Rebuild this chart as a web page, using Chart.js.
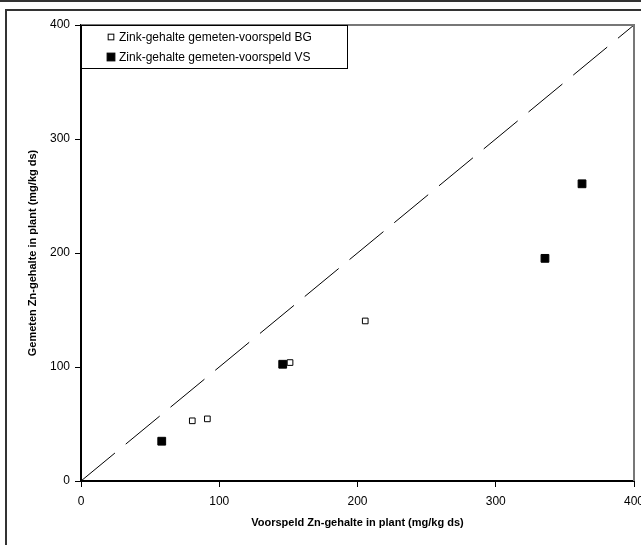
<!DOCTYPE html>
<html>
<head>
<meta charset="utf-8">
<script src="https://cdn.jsdelivr.net/npm/chart.js@4/dist/chart.umd.min.js"></script>
<style>
  html, body { margin: 0; padding: 0; background: #fff; }
  #wrap { position: relative; width: 641px; height: 545px; }
</style>
</head>
<body>
<div id="wrap"><canvas id="chart" width="641" height="545"></canvas></div>
<script>
// values
const bgLabel = 'Zink-gehalte gemeten-voorspeld BG';
const bgPredicted = [80.5, 91.4, 151.2, 205.6];
const bgMeasured = [52.8, 54.5, 103.9, 140.4];

const vsLabel = 'Zink-gehalte gemeten-voorspeld VS';
const vsPredicted = [58.4, 145.9, 335.6, 362.4];
const vsMeasured = [34.9, 102.4, 195.3, 260.7];

const lineX = [0, 400];
const lineY = [0, 400];

const axisMin = 0;
const axisMax = 400;
const axisStep = 100;

const xTitle = 'Voorspeld Zn-gehalte in plant (mg/kg ds)';
const yTitle = 'Gemeten Zn-gehalte in plant (mg/kg ds)';

function toPoints(xs, ys) {
  return xs.map((x, i) => ({ x: x, y: ys[i] }));
}

const fontFamily = '"Liberation Sans", Arial, sans-serif';

// frame around the whole picture and the plot box
const framePlugin = {
  id: 'frame',
  beforeDraw(chart) {
    const ctx = chart.ctx;
    ctx.save();
    ctx.fillStyle = '#fff';
    ctx.fillRect(0, 0, chart.width, chart.height);
    ctx.strokeStyle = '#333';
    ctx.lineWidth = 2;
    ctx.beginPath();
    ctx.moveTo(0, 1);
    ctx.lineTo(chart.width, 1);
    ctx.moveTo(6, chart.height + 5);
    ctx.lineTo(6, 10);
    ctx.lineTo(chart.width + 5, 10);
    ctx.stroke();
    ctx.restore();
  },
  afterDraw(chart) {
    const a = chart.chartArea;
    const ctx = chart.ctx;
    ctx.save();
    ctx.strokeStyle = '#777';
    ctx.lineWidth = 2;
    ctx.beginPath();
    ctx.moveTo(a.left, a.top);
    ctx.lineTo(a.right, a.top);
    ctx.lineTo(a.right, a.bottom);
    ctx.stroke();
    ctx.restore();
  }
};

// boxed legend in the top left corner of the plot
const boxLegendPlugin = {
  id: 'boxLegend',
  afterDraw(chart) {
    const a = chart.chartArea;
    const ctx = chart.ctx;
    const items = chart.data.datasets.filter(d => d.label);
    const boxW = 266, rowH = 20;
    ctx.save();
    ctx.fillStyle = '#fff';
    ctx.fillRect(a.left, a.top, boxW, items.length * rowH + 3);
    ctx.strokeStyle = '#000';
    ctx.lineWidth = 1;
    ctx.strokeRect(a.left + 0.5, a.top + 0.5, boxW, items.length * rowH + 3);
    ctx.font = '12px ' + fontFamily;
    ctx.textBaseline = 'middle';
    items.forEach((d, i) => {
      const cy = a.top + 12 + i * rowH;
      const cx = a.left + 30;
      const s = d.pointRadius * Math.SQRT1_2;
      ctx.fillStyle = d.pointBackgroundColor;
      ctx.fillRect(cx - s, cy - s, 2 * s, 2 * s);
      ctx.strokeStyle = d.pointBorderColor;
      ctx.lineWidth = d.pointBorderWidth;
      ctx.strokeRect(cx - s, cy - s, 2 * s, 2 * s);
      ctx.fillStyle = '#000';
      ctx.fillText(d.label, a.left + 38, cy + 1);
    });
    ctx.restore();
  }
};

const ctx = document.getElementById('chart').getContext('2d');
new Chart(ctx, {
  data: {
    datasets: [
      {
        type: 'line',
        data: toPoints(lineX, lineY),
        borderColor: '#000',
        borderWidth: 1,
        borderDash: [44, 14],
        pointRadius: 0,
        fill: false
      },
      {
        type: 'scatter',
        label: bgLabel,
        data: toPoints(bgPredicted, bgMeasured),
        pointStyle: 'rect',
        pointRadius: 4,
        pointBackgroundColor: '#fff',
        pointBorderColor: '#000',
        pointBorderWidth: 1
      },
      {
        type: 'scatter',
        label: vsLabel,
        data: toPoints(vsPredicted, vsMeasured),
        pointStyle: 'rect',
        pointRadius: 5.5,
        pointBackgroundColor: '#000',
        pointBorderColor: '#000',
        pointBorderWidth: 1
      }
    ]
  },
  options: {
    responsive: false,
    animation: false,
    layout: { padding: { top: 25, right: 7, bottom: 0, left: 0 } },
    plugins: {
      legend: { display: false },
      tooltip: { enabled: false }
    },
    scales: {
      x: {
        type: 'linear',
        min: axisMin,
        max: axisMax,
        ticks: { stepSize: axisStep, color: '#000', padding: 7, font: { family: fontFamily, size: 12 } },
        grid: { drawOnChartArea: false, tickLength: 6, color: '#000' },
        border: { color: '#000', width: 2 },
        title: { display: true, text: xTitle, color: '#000', padding: { top: 4, bottom: 15 }, font: { family: fontFamily, size: 11, weight: 'bold' } },
        afterFit(scale) {
          scale.height = 64;
          scale.paddingLeft = 0;
          scale.paddingRight = 0;
        }
      },
      y: {
        type: 'linear',
        min: axisMin,
        max: axisMax,
        ticks: { stepSize: axisStep, color: '#000', padding: 5, font: { family: fontFamily, size: 12 } },
        grid: { drawOnChartArea: false, tickLength: 6, color: '#000' },
        border: { color: '#000', width: 2 },
        title: { display: true, text: yTitle, color: '#000', padding: { top: 26, bottom: 0 }, font: { family: fontFamily, size: 11, weight: 'bold' } },
        afterFit(scale) {
          scale.width = 81;
        }
      }
    }
  },
  plugins: [framePlugin, boxLegendPlugin]
});
</script>
</body>
</html>
